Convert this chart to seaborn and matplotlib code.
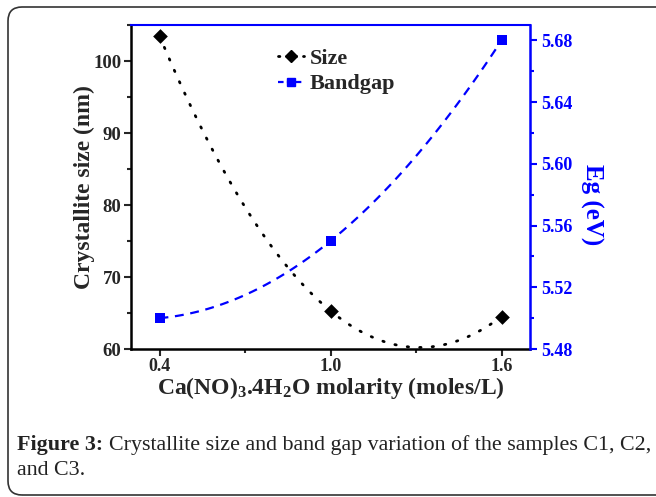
import numpy as np
import pandas as pd
import matplotlib
matplotlib.use('Agg')
import matplotlib.pyplot as plt
import seaborn as sns
from matplotlib.lines import Line2D
from matplotlib.patches import FancyBboxPatch
from matplotlib.ticker import MultipleLocator, FixedLocator, FormatStrFormatter
from matplotlib.transforms import IdentityTransform

# data
molarity = [0.4, 1.0, 1.6]
crystallite_size = [103.5, 65.3, 64.5]
band_gap = [5.50, 5.55, 5.68]

df = pd.DataFrame({'molarity': molarity, 'size': crystallite_size, 'eg': band_gap})

sns.set_style('ticks')
plt.rcParams['font.family'] = ['Liberation Serif', 'DejaVu Serif']
plt.rcParams['font.weight'] = 'bold'
plt.rcParams['mathtext.fontset'] = 'custom'
plt.rcParams['mathtext.rm'] = 'Liberation Serif:bold'
plt.rcParams['mathtext.bf'] = 'Liberation Serif:bold'
plt.rcParams['mathtext.it'] = 'Liberation Serif:bold:italic'

blue = '#0000ff'

fig = plt.figure(figsize=(6.56, 4.97), dpi=100)
ax = fig.add_axes([131/656, 1 - 349/497, 399/656, 324/497])
ax2 = ax.twinx()

# smooth curves through the points (quadratic fit, like Origin's spline)
sns.regplot(data=df, x='molarity', y='size', order=2, ci=None, ax=ax,
            marker='D', color='black',
            scatter_kws={'s': 56, 'alpha': 1, 'linewidths': 0, 'zorder': 4, 'clip_on': False},
            line_kws={'lw': 2.0, 'ls': (0, (0.5, 4)), 'dash_capstyle': 'round'})
sns.regplot(data=df, x='molarity', y='eg', order=2, ci=None, ax=ax2,
            marker='s', color=blue,
            scatter_kws={'s': 42, 'alpha': 1, 'linewidths': 0, 'zorder': 4, 'clip_on': False},
            line_kws={'lw': 1.6, 'ls': (0, (4, 3))})

ax.set_xlim(0.3, 1.7)
ax.set_ylim(60, 105)
ax2.set_ylim(5.48, 5.69)

ax.xaxis.set_major_locator(FixedLocator([0.4, 1.0, 1.6]))
ax.xaxis.set_minor_locator(FixedLocator([0.7, 1.3]))
ax.xaxis.set_major_formatter(FormatStrFormatter('%.1f'))
ax.yaxis.set_major_locator(MultipleLocator(10))
ax.yaxis.set_minor_locator(MultipleLocator(5))
ax2.yaxis.set_major_locator(MultipleLocator(0.04))
ax2.yaxis.set_minor_locator(MultipleLocator(0.02))
ax2.yaxis.set_major_formatter(FormatStrFormatter('%.2f'))

ax.tick_params(axis='x', which='major', direction='out', length=5, width=1.5, labelsize=13, pad=1.5)
ax.tick_params(axis='x', which='minor', direction='out', length=3, width=1.5)
ax.tick_params(axis='y', which='major', direction='out', length=5, width=1.5, labelsize=13.5, pad=2)
ax.tick_params(axis='y', which='minor', direction='out', length=3, width=1.5)
ax2.tick_params(axis='y', which='major', direction='out', length=5, width=1.5, labelsize=13,
                pad=3, colors=blue)
ax2.tick_params(axis='y', which='minor', direction='out', length=3, width=1.5, colors=blue)

for s in ['left', 'bottom']:
    ax.spines[s].set_linewidth(1.8)
    ax.spines[s].set_color('black')
    ax2.spines[s].set_visible(False)
ax.spines['top'].set_visible(False)
ax.spines['right'].set_visible(False)
ax2.spines['right'].set_color(blue)
ax2.spines['right'].set_linewidth(1.8)
ax2.spines['top'].set_color(blue)
ax2.spines['top'].set_linewidth(1.5)

ax.set_xlabel(r'Ca(NO)$_\mathbf{3}$.4H$_\mathbf{2}$O molarity (moles/L)', fontsize=17, fontweight='bold')
ax.xaxis.set_label_coords(0.5, -0.08)
ax.set_ylabel('Crystallite size (nm)', fontsize=17, fontweight='bold')
ax.yaxis.set_label_coords(-0.09, 0.5)
ax2.set_ylabel('Eg (eV)', fontsize=18, fontweight='bold', color=blue, rotation=-90, va='center')
ax2.yaxis.set_label_coords(1.153, 0.447)

handles = [
    Line2D([], [], color='black', lw=2.0, ls=(0, (0.5, 2.5)), dash_capstyle='round', marker='D', ms=6),
    Line2D([], [], color=blue, lw=1.6, ls=(0, (2.5, 1.5)), marker='s', ms=6),
]
ax.legend(handles, ['Size', 'Bandgap'], loc='upper left', bbox_to_anchor=(0.368, 0.928),
          frameon=False, prop={'weight': 'bold', 'size': 16},
          handlelength=1.2, handletextpad=0.25, labelspacing=0.22, borderpad=0, borderaxespad=0)

# caption and rounded frame
cap = fig.text(17/656, 1 - 450/497, 'Figure 3:', fontsize=15.8, fontweight='bold',
               color='#222222', va='baseline', ha='left')
ax.annotate('Crystallite size and band gap variation of the samples C1, C2,',
            xy=(1, 0), xycoords=cap, xytext=(4, 0), textcoords='offset points',
            fontsize=15.8, fontweight='normal', color='#222222', va='bottom', ha='left',
            annotation_clip=False)
fig.text(17/656, 1 - 475/497, 'and C3.', fontsize=15.8, fontweight='normal', color='#222222',
         va='baseline', ha='left')

frame = FancyBboxPatch((8, 2), 700, 488, boxstyle='round,pad=0,rounding_size=14',
                       transform=IdentityTransform(), fill=False, ec='#333333', lw=1.2)
fig.patches.append(frame)

fig.savefig('out.png', dpi=100)
